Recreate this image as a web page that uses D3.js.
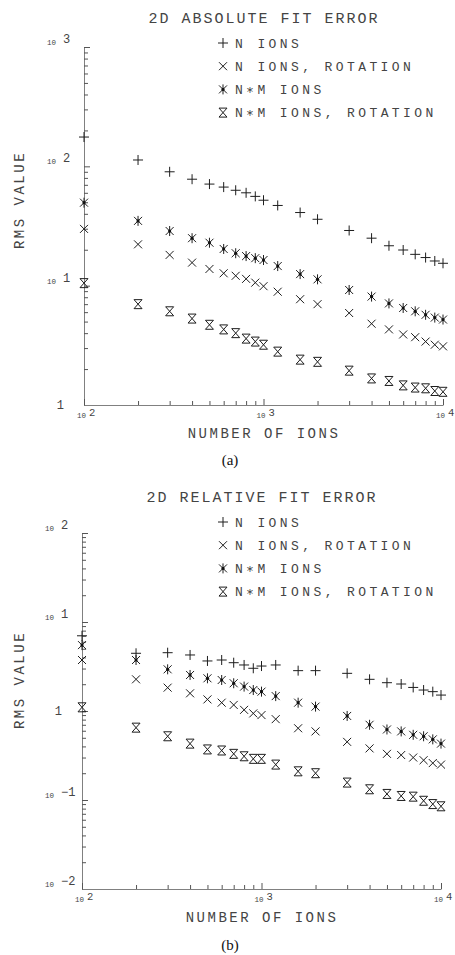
<!DOCTYPE html>
<html>
<head>
<meta charset="utf-8">
<script src="https://cdn.jsdelivr.net/npm/d3@7"></script>
<style>
body { margin: 0; background: #fff; }
text { font-family: "Liberation Mono", "DejaVu Sans Mono", monospace; fill: #444; }
</style>
</head>
<body>
<div id="chart"></div>
<script>
// number of ions (x values, shared by every series)
var ions = [100, 200, 300, 400, 500, 600, 700, 800, 900, 1000, 1200, 1600, 2000, 3000, 4000, 5000, 6000, 7000, 8000, 9000, 10000];

// (a) absolute fit error, RMS value
var absN      = [176, 113, 90, 78, 71, 67, 63, 60, 56, 52, 47, 41, 36, 29, 25, 21.6, 19.9, 18.3, 17.2, 16.1, 15.4];
var absNRot   = [29.9, 22.2, 18.1, 15.6, 13.8, 12.7, 12.1, 11.4, 10.6, 9.9, 8.9, 7.7, 7.0, 5.9, 4.8, 4.3, 3.9, 3.7, 3.4, 3.2, 3.1];
var absNM     = [49.6, 34.9, 28.7, 25, 22.9, 20.3, 18.7, 17.7, 17, 16.4, 14.6, 12.5, 11.3, 9.2, 8.1, 7.1, 6.5, 6.1, 5.7, 5.4, 5.2];
var absNMRot  = [10.5, 7.0, 6.1, 5.3, 4.7, 4.3, 4.0, 3.6, 3.4, 3.2, 2.8, 2.4, 2.3, 1.94, 1.67, 1.59, 1.46, 1.40, 1.38, 1.31, 1.29];

// (b) relative fit error, RMS value
var relN      = [7.0, 4.45, 4.52, 4.26, 3.65, 3.74, 3.49, 3.29, 3.02, 3.2, 3.29, 2.84, 2.84, 2.65, 2.27, 2.08, 2.01, 1.84, 1.72, 1.65, 1.51];
var relNRot   = [3.74, 2.27, 1.83, 1.58, 1.35, 1.24, 1.17, 1.03, 0.94, 0.90, 0.81, 0.64, 0.59, 0.45, 0.38, 0.33, 0.32, 0.30, 0.28, 0.26, 0.25];
var relNM     = [5.5, 3.74, 2.94, 2.54, 2.33, 2.23, 2.05, 1.88, 1.72, 1.65, 1.47, 1.24, 1.12, 0.88, 0.70, 0.62, 0.59, 0.54, 0.52, 0.48, 0.43];
var relNMRot  = [1.1, 0.65, 0.52, 0.43, 0.37, 0.36, 0.33, 0.31, 0.29, 0.29, 0.25, 0.21, 0.20, 0.157, 0.132, 0.117, 0.111, 0.109, 0.098, 0.090, 0.085];

var legendLabels = ["N IONS", "N IONS, ROTATION", "N\u2217M IONS", "N\u2217M IONS, ROTATION"];
var markerTypes = ["plus", "cross", "star", "hourglass"];
var xExps = [2, 3, 4];
var absYExps = [0, 1, 2, 3];
var relYExps = [-2, -1, 0, 1, 2];

var svg = d3.select("#chart").append("svg")
    .attr("width", 455)
    .attr("height", 955);

// plotter style symbols
function markerPath(type) {
    if (type == "plus") return "M-5,0H5M0,-5V5";
    if (type == "cross") return "M-4,-4L4,4M-4,4L4,-4";
    if (type == "star") return "M-4,-4L4,4M-4,4L4,-4M0,-5V5";
    return "M-4,-4.5H4L-4,4.5H4Z"; // hourglass
}

function drawMarker(g, type, cx, cy) {
    g.append("path")
        .attr("transform", "translate(" + cx + "," + cy + ")")
        .attr("d", markerPath(type))
        .attr("fill", "none")
        .attr("stroke", "#1e1e1e")
        .attr("stroke-width", 1);
    if (type == "star") {
        g.append("circle").attr("cx", cx).attr("cy", cy).attr("r", 1.6).attr("fill", "#111");
    }
}

function minorTicks(exps) {
    var out = [];
    for (var i = 0; i < exps.length - 1; i++) {
        for (var m = 2; m <= 9; m++) out.push(m * Math.pow(10, exps[i]));
    }
    return out;
}

function expLabel(e) {
    return e < 0 ? "\u2212" + (-e) : "" + e;
}

function drawPanel(cfg) {
    var g = svg.append("g");
    var x = d3.scaleLog().domain([100, 10000]).range(cfg.xRange);
    var y = d3.scaleLog().domain(cfg.yDomain).range(cfg.yRange);
    var x0 = cfg.xRange[0], y0 = cfg.yRange[0];

    var yMajor = cfg.yExps.map(function(e) { return Math.pow(10, e); });
    var xMajor = xExps.map(function(e) { return Math.pow(10, e); });

    // y axis, ticks point into the plot
    g.append("g").attr("transform", "translate(" + x0 + ",0)")
        .call(d3.axisRight(y).tickValues(minorTicks(cfg.yExps)).tickSize(4).tickSizeOuter(0).tickFormat(""));
    g.append("g").attr("transform", "translate(" + x0 + ",0)")
        .call(d3.axisRight(y).tickValues(yMajor).tickSize(6).tickSizeOuter(0).tickFormat(""))
        .select(".domain").remove();

    g.append("g").attr("transform", "translate(0," + y0 + ")")
        .call(d3.axisTop(x).tickValues(minorTicks(xExps)).tickSize(4).tickSizeOuter(0).tickFormat(""));
    g.append("g").attr("transform", "translate(0," + y0 + ")")
        .call(d3.axisTop(x).tickValues(xMajor).tickSize(6).tickSizeOuter(0).tickFormat(""))
        .select(".domain").remove();

    g.selectAll(".domain").attr("stroke", "#808080");
    g.selectAll(".tick line").attr("stroke", "#555");

    // y tick labels
    cfg.yExps.forEach(function(e) {
        var ty = y(Math.pow(10, e));
        if (e == 0) {
            g.append("text").attr("x", x0 - 20).attr("y", ty + 4)
                .attr("text-anchor", "end").attr("font-size", 12).text("1");
        } else {
            g.append("text").attr("x", x0 - 28).attr("y", ty - 2)
                .attr("text-anchor", "end").attr("font-size", 7.5).text("10");
            g.append("text").attr("x", x0 - 21).attr("y", ty - 4)
                .attr("font-size", 12).text(expLabel(e));
        }
    });

    // x tick labels
    xExps.forEach(function(e) {
        var tx = x(Math.pow(10, e));
        g.append("text").attr("x", tx + 2).attr("y", y0 + 13)
            .attr("text-anchor", "end").attr("font-size", 7.5).text("10");
        g.append("text").attr("x", tx + 5).attr("y", y0 + 11)
            .attr("font-size", 10.5).text(expLabel(e));
    });

    // data points
    cfg.series.forEach(function(vals, si) {
        vals.forEach(function(v, i) {
            drawMarker(g, markerTypes[si], x(ions[i]), y(v));
        });
    });

    // titles
    g.append("text").attr("x", cfg.titleX).attr("y", cfg.titleY)
        .attr("text-anchor", "middle").attr("font-size", 15)
        .style("letter-spacing", "2px").text(cfg.title);

    legendLabels.forEach(function(lab, i) {
        var ly = cfg.legendY + i * 23.2;
        drawMarker(g, markerTypes[i], 223, ly);
        g.append("text").attr("x", 235).attr("y", ly + 4.5)
            .attr("font-size", 13).style("letter-spacing", "3.4px").text(lab);
    });

    g.append("text").attr("x", cfg.titleX).attr("y", y0 + 33)
        .attr("text-anchor", "middle").attr("font-size", 14)
        .style("letter-spacing", "2.5px").text("NUMBER OF IONS");

    g.append("text")
        .attr("transform", "translate(24," + cfg.rmsY + ") rotate(-90)")
        .attr("text-anchor", "middle").attr("font-size", 14)
        .style("letter-spacing", "2.5px").text("RMS VALUE");

    g.append("text").attr("x", 230).attr("y", cfg.capY)
        .attr("text-anchor", "middle")
        .style("font-family", "'Liberation Serif', 'DejaVu Serif', serif")
        .style("fill", "#111")
        .attr("font-size", 15).text(cfg.caption);
}

drawPanel({
    title: "2D ABSOLUTE FIT ERROR",
    caption: "(a)",
    xRange: [84, 443],
    yDomain: [1, 1000],
    yRange: [405, 47],
    yExps: absYExps,
    series: [absN, absNRot, absNM, absNMRot],
    titleX: 264, titleY: 23,
    legendY: 43,
    rmsY: 200,
    capY: 465
});

drawPanel({
    title: "2D RELATIVE FIT ERROR",
    caption: "(b)",
    xRange: [82, 441],
    yDomain: [0.01, 100],
    yRange: [889, 533],
    yExps: relYExps,
    series: [relN, relNRot, relNM, relNMRot],
    titleX: 262, titleY: 502,
    legendY: 522,
    rmsY: 680,
    capY: 950
});
</script>
</body>
</html>
